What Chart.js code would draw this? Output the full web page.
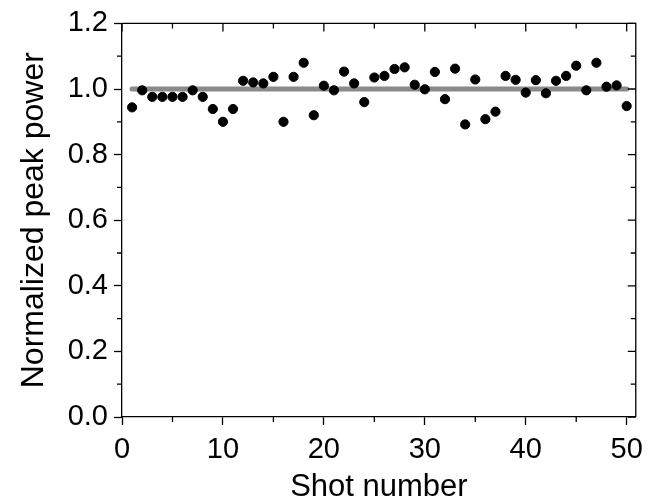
<!DOCTYPE html>
<html>
<head>
<meta charset="utf-8">
<script src="https://cdn.jsdelivr.net/npm/chart.js@4.4.1/dist/chart.umd.min.js"></script>
<style>
  html, body { margin: 0; padding: 0; background: #fff; }
  #peakChart { display: block; }
</style>
</head>
<body>
<canvas id="peakChart" width="651" height="504"></canvas>
<script>
// shot index and normalized peak power
var shots = [];
for (var i = 1; i <= 50; i++) shots.push(i);

var peakPower = [
    0.944, 0.996, 0.976, 0.976, 0.976, 0.976, 0.996, 0.976, 0.939, 0.900,
    0.939, 1.025, 1.020, 1.017, 1.037, 0.900, 1.037, 1.080, 0.920, 1.010,
    0.996, 1.053, 1.017, 0.960, 1.035, 1.040, 1.061, 1.066, 1.013, 0.999,
    1.052, 0.969, 1.062, 0.892, 1.029, 0.908, 0.931, 1.040, 1.028, 0.989,
    1.027, 0.987, 1.025, 1.040, 1.071, 0.996, 1.080, 1.007, 1.011, 0.948
];

// reference level line (x from first to last shot)
var refX = [1, 50];
var refY = [1.0, 1.0];

var xMinorTicks = [5, 15, 25, 35, 45];
var yMinorTicks = [0.1, 0.3, 0.5, 0.7, 0.9, 1.1];
var xMajorTicks = [0, 10, 20, 30, 40, 50];
var yMajorTicks = [0, 0.2, 0.4, 0.6, 0.8, 1.0, 1.2];

var FONT = "'Liberation Sans', Arial, sans-serif";

// draws the box top/right edges and the minor + inside ticks
var frameTicks = {
    id: 'frameTicks',
    afterDraw: function (chart) {
        var ctx = chart.ctx;
        var a = chart.chartArea;
        var xs = chart.scales.x, ys = chart.scales.y;
        ctx.save();
        ctx.strokeStyle = '#000';
        ctx.lineWidth = 1.3;
        ctx.beginPath();
        ctx.moveTo(a.left, a.top);
        ctx.lineTo(a.right, a.top);
        ctx.lineTo(a.right, a.bottom);
        ctx.stroke();

        ctx.beginPath();
        xMinorTicks.forEach(function (v) {
            var px = xs.getPixelForValue(v);
            ctx.moveTo(px, a.bottom); ctx.lineTo(px, a.bottom + 5);
            ctx.moveTo(px, a.top); ctx.lineTo(px, a.top + 5);
        });
        xMajorTicks.forEach(function (v) {
            var px = xs.getPixelForValue(v);
            ctx.moveTo(px, a.top); ctx.lineTo(px, a.top + 8);
        });
        yMinorTicks.forEach(function (v) {
            var py = ys.getPixelForValue(v);
            ctx.moveTo(a.left, py); ctx.lineTo(a.left - 5, py);
            ctx.moveTo(a.right, py); ctx.lineTo(a.right - 5, py);
        });
        yMajorTicks.forEach(function (v) {
            var py = ys.getPixelForValue(v);
            ctx.moveTo(a.right, py); ctx.lineTo(a.right - 8, py);
        });
        ctx.stroke();
        ctx.restore();
    }
};

var ctx = document.getElementById('peakChart').getContext('2d');
var chart = new Chart(ctx, {
    type: 'scatter',
    data: {
        datasets: [{
            label: 'Peak power',
            data: shots.map(function (s, k) { return { x: s, y: peakPower[k] }; }),
            backgroundColor: '#000',
            borderColor: '#000',
            pointRadius: 4.6,
            pointHoverRadius: 4.6,
            order: 0
        }, {
            label: 'Reference',
            type: 'line',
            data: refX.map(function (x, k) { return { x: x, y: refY[k] }; }),
            borderColor: '#8a8a8a',
            borderWidth: 5,
            borderCapStyle: 'round',
            pointRadius: 0,
            fill: false,
            order: 1
        }]
    },
    options: {
        responsive: false,
        animation: false,
        layout: { autoPadding: false, padding: { left: 0, right: 11, top: 19, bottom: 0 } },
        plugins: {
            legend: { display: false },
            tooltip: { enabled: false }
        },
        scales: {
            x: {
                type: 'linear',
                min: 0,
                max: 50.9,
                afterFit: function (axis) { axis.height = 87; },
                grid: {
                    drawOnChartArea: false,
                    drawTicks: true,
                    tickLength: 8,
                    tickColor: '#000',
                    tickWidth: 1.3
                },
                border: { display: true, color: '#000', width: 1.3 },
                ticks: {
                    stepSize: 10,
                    includeBounds: false,
                    color: '#000',
                    padding: 8,
                    maxRotation: 0,
                    font: { family: FONT, size: 29 }
                },
                title: {
                    display: true,
                    text: 'Shot number',
                    color: '#000',
                    font: { family: FONT, size: 31, lineHeight: 1 },
                    padding: { top: 0, bottom: 1.5 }
                }
            },
            y: {
                min: 0,
                max: 1.2,
                afterFit: function (axis) { axis.width = 122; },
                grid: {
                    drawOnChartArea: false,
                    drawTicks: true,
                    tickLength: 8,
                    tickColor: '#000',
                    tickWidth: 1.3
                },
                border: { display: true, color: '#000', width: 1.3 },
                ticks: {
                    stepSize: 0.2,
                    color: '#000',
                    padding: 6,
                    font: { family: FONT, size: 29 },
                    callback: function (v) { return v.toFixed(1); }
                },
                title: {
                    display: true,
                    text: 'Normalized peak power',
                    color: '#000',
                    font: { family: FONT, size: 32, lineHeight: 1 },
                    padding: { top: 18, bottom: 0 }
                }
            }
        }
    },
    plugins: [frameTicks]
});
</script>
</body>
</html>
